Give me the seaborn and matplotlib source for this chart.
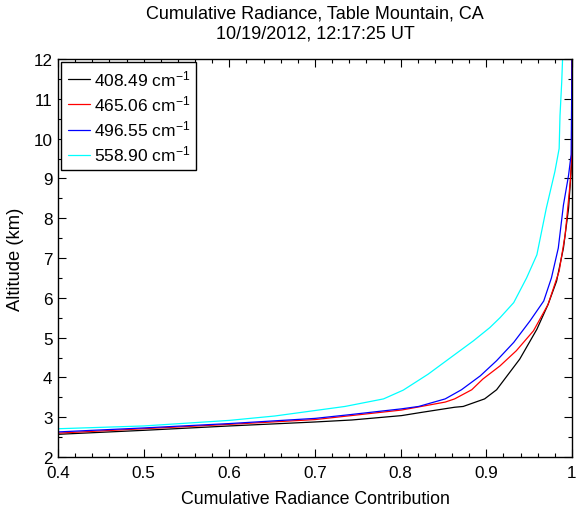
import numpy as np
import pandas as pd
import matplotlib
matplotlib.use("Agg")
import matplotlib.pyplot as plt
from matplotlib.ticker import MultipleLocator
import seaborn as sns

# Cumulative radiance contribution vs. altitude for four wavenumbers
labels = ["408.49 cm$^{-1}$", "465.06 cm$^{-1}$", "496.55 cm$^{-1}$", "558.90 cm$^{-1}$"]
colors = ["black", "red", "blue", "cyan"]

x_408 = [0.400, 0.500, 0.600, 0.700, 0.743, 0.801, 0.824, 0.863, 0.873, 0.898,
         0.912, 0.939, 0.959, 0.972, 0.982, 0.990, 0.996, 1.000, 1.000]
y_408 = [2.57, 2.67, 2.78, 2.88, 2.93, 3.04, 3.12, 3.25, 3.27, 3.46,
         3.69, 4.46, 5.21, 5.83, 6.42, 7.25, 8.25, 9.50, 12.0]

x_465 = [0.400, 0.500, 0.600, 0.700, 0.801, 0.824, 0.852, 0.863, 0.883, 0.896,
         0.916, 0.935, 0.955, 0.972, 0.985, 0.992, 0.998, 1.000, 1.000]
y_465 = [2.60, 2.71, 2.82, 2.94, 3.18, 3.27, 3.38, 3.46, 3.69, 3.96,
         4.29, 4.67, 5.17, 5.83, 6.67, 7.58, 8.92, 9.75, 12.0]

x_496 = [0.400, 0.500, 0.600, 0.700, 0.739, 0.801, 0.821, 0.852, 0.871, 0.893,
         0.912, 0.932, 0.951, 0.967, 0.976, 0.984, 0.990, 0.996, 0.999, 1.000]
y_496 = [2.63, 2.73, 2.84, 2.97, 3.06, 3.21, 3.27, 3.46, 3.69, 4.04,
         4.42, 4.88, 5.42, 5.92, 6.50, 7.25, 8.33, 9.08, 9.60, 12.0]

x_558 = [0.400, 0.500, 0.600, 0.653, 0.735, 0.780, 0.803, 0.832, 0.861, 0.885,
         0.904, 0.916, 0.932, 0.947, 0.959, 0.970, 0.980, 0.985, 0.986, 0.988, 0.989]
y_558 = [2.71, 2.78, 2.92, 3.03, 3.27, 3.46, 3.68, 4.08, 4.54, 4.92,
         5.25, 5.50, 5.88, 6.50, 7.08, 8.25, 9.17, 9.75, 10.58, 11.42, 12.0]

series = [(x_408, y_408), (x_465, y_465), (x_496, y_496), (x_558, y_558)]
df = pd.concat(
    [pd.DataFrame({"contribution": xs, "altitude": ys, "band": lab})
     for lab, (xs, ys) in zip(labels, series)],
    ignore_index=True,
)

sns.set_style("ticks")
plt.rcParams["font.family"] = ["Liberation Sans", "DejaVu Sans"]
plt.rcParams["mathtext.fontset"] = "custom"
plt.rcParams["mathtext.rm"] = "Liberation Sans"
plt.rcParams["mathtext.default"] = "regular"
plt.rcParams["text.color"] = "black"
plt.rcParams["axes.labelcolor"] = "black"

fig = plt.figure(figsize=(5.85, 5.10), dpi=100)
ax = fig.add_axes([58 / 585, 52 / 510, 514 / 585, 398 / 510])

# profiles run bottom-to-top, so keep the point order as given
for lab, col in zip(labels, colors):
    sub = df[df["band"] == lab]
    sns.lineplot(data=sub, x="contribution", y="altitude", sort=False,
                 estimator=None, color=col, linewidth=0.9, ax=ax, label=lab)

ax.set_xlim(0.4, 1.0)
ax.set_ylim(2, 12)
ax.set_xticks([0.4, 0.5, 0.6, 0.7, 0.8, 0.9, 1.0])
ax.set_xticklabels(["0.4", "0.5", "0.6", "0.7", "0.8", "0.9", "1"])
ax.set_yticks(range(2, 13))
ax.set_yticklabels([str(v) for v in range(2, 13)])
ax.xaxis.set_minor_locator(MultipleLocator(0.02))
ax.yaxis.set_minor_locator(MultipleLocator(0.5))

ax.tick_params(which="both", direction="in", top=True, right=True, color="black",
               width=0.8, labelsize=12.3, labelcolor="black")
ax.tick_params(which="major", length=6)
ax.tick_params(which="minor", length=3)
ax.tick_params(axis="x", which="major", pad=6)
ax.tick_params(axis="y", which="major", pad=4)
for sp in ax.spines.values():
    sp.set_color("black")
    sp.set_linewidth(1.0)
    sp.set_visible(True)

ax.set_xlabel("Cumulative Radiance Contribution", fontsize=12.8, labelpad=7)
ax.set_ylabel("Altitude (km)", fontsize=13.2, labelpad=7)
ax.set_title("Cumulative Radiance, Table Mountain, CA\n10/19/2012, 12:17:25 UT",
             fontsize=13, pad=15.5, linespacing=1.22, color="black")

leg = ax.legend(loc="upper left", fontsize=12.5, frameon=True, fancybox=False,
                borderaxespad=0.2, handlelength=1.3, handletextpad=0.2,
                labelspacing=0.3, borderpad=0.35)
leg.get_frame().set_edgecolor("black")
leg.get_frame().set_linewidth(1.0)
leg.get_frame().set_alpha(1)

fig.savefig("out.png", dpi=100)
